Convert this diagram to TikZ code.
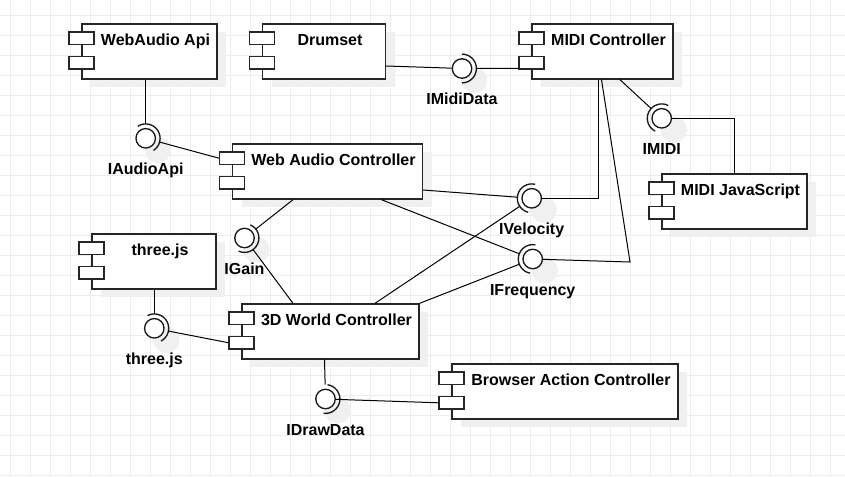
\documentclass[tikz,border=0pt]{standalone}
\usepackage{fontspec}
\setmainfont{Liberation Sans}
\usetikzlibrary{calc,shadows}

\begin{document}
\begin{tikzpicture}[x=0.75pt,y=-0.75pt]
  \tikzstyle{myGrid}=[gray!15, line width=0.75pt];
  \tikzstyle{myShadow}=[drop shadow={shadow xshift=6.75pt, shadow yshift=-6pt, fill=gray!12, opacity=1}];
  \tikzstyle{myComp}=[draw=black!85, line width=1pt, fill=white, myShadow,
      inner xsep=0pt, inner ysep=7pt, text height=9pt, text depth=18.3pt,
      font=\bfseries\fontsize{12}{14}\selectfont, execute at begin node={\hspace*{9pt}}];
  \tikzstyle{myPort}=[draw=black!85, line width=1pt, fill=white];
  \tikzstyle{myIf}=[circle, draw=black!90, line width=1pt, fill=white, minimum size=14.6pt, inner sep=0pt,
      drop shadow={shadow scale=1.35, shadow xshift=6.75pt, shadow yshift=-6.4pt, fill=gray!12, opacity=1}];
  \tikzstyle{myLbl}=[font=\bfseries\fontsize{12}{14}\selectfont, inner sep=0pt, text height=8.6pt, text depth=2pt, label distance=10.5pt];
  \tikzstyle{myLine}=[black, line width=0.75pt];
  \tikzstyle{toArc}=[shorten >=10.8pt];
  \tikzstyle{fromArc}=[shorten <=10.8pt];

  \fill[white] (0,0) rectangle (845,476);
  \useasboundingbox (0,0) rectangle (845,476);
  \foreach \gx in {10,30,...,830} \draw[myGrid] (\gx,0) -- (\gx,476);
  \foreach \gy in {15,35,...,475} \draw[myGrid] (0,\gy) -- (845,\gy);

  % components
  \node[myComp, minimum width=101.25pt] (webapi) at (149.5,51.5) {WebAudio Api};
  \node[myComp, minimum width=92.25pt] (drum) at (324,51.5) {Drumset};
  \node[myComp, minimum width=105.75pt] (midi) at (602.5,51.5) {MIDI Controller};
  \node[myComp, minimum width=142.5pt] (wac) at (327.5,171.5) {Web Audio Controller};
  \node[myComp, minimum width=93pt] (three) at (154,261.5) {three.js};
  \node[myComp, minimum width=132.75pt] (world) at (330.5,331.5) {3D World Controller};
  \node[myComp, minimum width=169.5pt] (browser) at (565,391.5) {Browser Action Controller};
  \node[myComp, minimum width=108.75pt] (midijs) at (734.5,201.5) {MIDI JavaScript};

  \foreach \n in {webapi,drum,midi,wac,three,world,browser,midijs} {
    \draw[myPort] ($(\n.north west)+(-12.5,8.7)$) rectangle ++(25,12.3);
    \draw[myPort] ($(\n.north west)+(-12.5,33)$) rectangle ++(25,12.8);
    \coordinate (\n-p1) at ($(\n.north west)+(-12.5,15)$);
    \coordinate (\n-p2) at ($(\n.north west)+(-12.5,39.5)$);
  }

  % interfaces
  \foreach \nm/\ix/\iy/\txt/\ang in {imid/462/68.5/IMidiData/0, iaudio/145.7/138.3/IAudioApi/33,
      imidi/661.7/118.3/IMIDI/153, ivel/531.7/198.3/IVelocity/166, ifreq/532.7/259/IFrequency/169,
      igain/244.5/238/IGain/-24, ithree/154.3/328.3/three.js/28, idraw/325.5/399/IDrawData/-8} {
    \node[myIf, label={[myLbl]below:\txt}] (\nm) at (\ix,\iy) {};
    \draw[black!90, line width=1pt] ([shift={(\ang-90:10.8pt)}]\nm.center)
        arc[start angle=\ang-90, end angle=\ang+90, radius=10.8pt];
  }

  % connectors
  \draw[myLine, toArc] (webapi.south -| iaudio) -- (iaudio.center);
  \draw[myLine, fromArc] (iaudio.center) -- (wac-p1);
  \draw[myLine] ($(drum.east)+(0,14.5)$) -- (imid);
  \draw[myLine, fromArc] (imid.center) -- ($(midi-p2)+(0,5.5)$);
  \draw[myLine, toArc] ($(midi.south)+(17.5,0)$) -- (imidi.center);
  \draw[myLine] (imidi) -| (midijs.north);
  \draw[myLine] ($(midi.south)+(-4,0)$) |- (ivel);
  \draw[myLine, toArc] ($(wac.east)+(0,18.5)$) -- (ivel.center);
  \draw[myLine, toArc] ($(world.north)+(44.5,0)$) -- (ivel.center);
  \draw[myLine, toArc] ($(wac.south)+(54,0)$) -- (ifreq.center);
  \draw[myLine, toArc] (world.north east) -- (ifreq.center);
  \coordinate (midiBend) at (630,262);
  \draw[myLine] ($(midi.south)+(-1,0)$) -- (midiBend) -- (ifreq);
  \draw[myLine, toArc] ($(wac.south)+(-34.5,0)$) -- (igain.center);
  \draw[myLine, toArc] ($(world.north)+(-37.5,0)$) -- (igain.center);
  \draw[myLine, toArc] (three.south -| ithree) -- (ithree.center);
  \draw[myLine, fromArc] (ithree.center) -- (world-p2);
  \draw[myLine, toArc] ($(world.south)+(-6,0)$) -- (idraw.center);
  \draw[myLine] (idraw) -- (browser-p2);
\end{tikzpicture}
\end{document}
